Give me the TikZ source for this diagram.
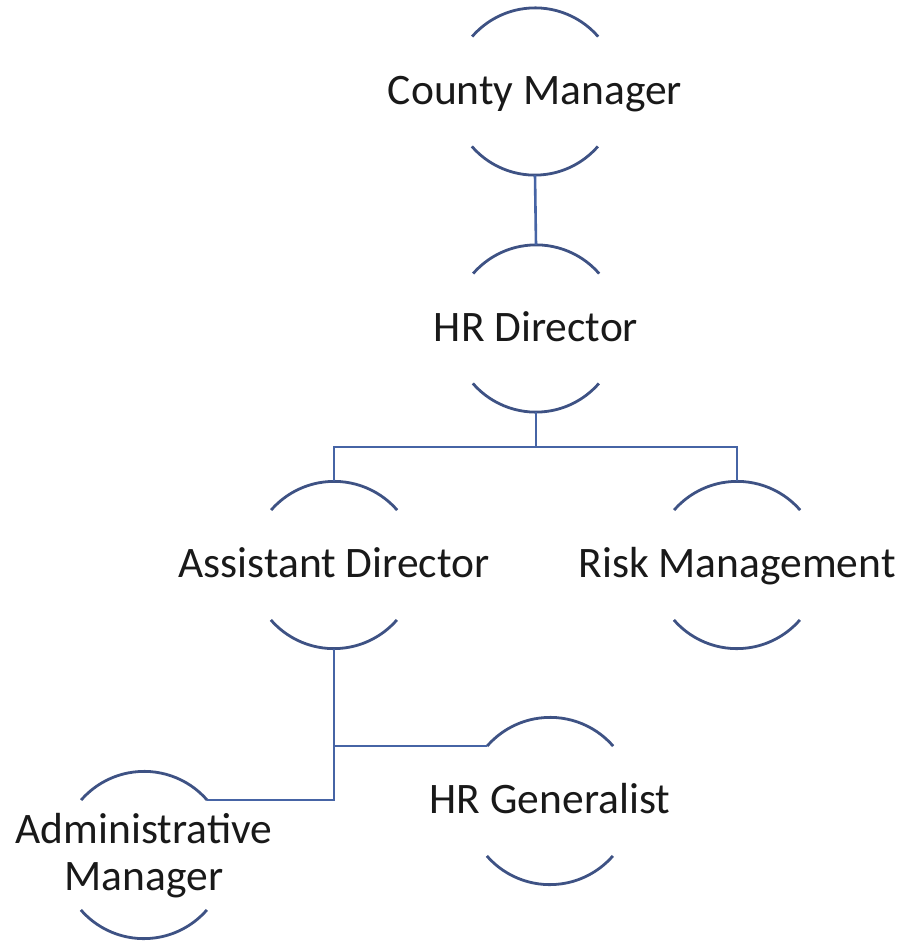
\documentclass[tikz,border=0pt]{standalone}
\usepackage{fontspec}
\setmainfont{Carlito}
\definecolor{arcblue}{RGB}{62,82,132}
\definecolor{lineblue}{RGB}{70,100,165}
\begin{document}
\begin{tikzpicture}[x=1pt,y=-1pt,
  ring/.style={circle,minimum size=167pt,inner sep=0pt,draw=none},
  lbl/.style={font=\fontsize{43.5}{47}\selectfont,inner sep=0pt,anchor=base,text=black!90},
  arcline/.style={draw=arcblue,line width=2.8pt},
  conn/.style={draw=lineblue,line width=2.6pt}]
\useasboundingbox (0,0) rectangle (906,943);
% ring placeholders
\node[ring] (cm)  at (535,91.5) {};
\node[ring] (hrd) at (536,328.5) {};
\node[ring] (ad)  at (334,565) {};
\node[ring] (rm)  at (737,565) {};
\node[ring] (hrg) at (550,801) {};
\node[ring] (am)  at (144,855) {};
% arcs
\foreach \n in {cm,hrd,ad,rm,hrg,am}{
  \draw[arcline] (\n.41) arc[start angle=41,end angle=139,radius=83.5pt];
  \draw[arcline] (\n.221) arc[start angle=221,end angle=319,radius=83.5pt];
}
% labels
\node[lbl] (cmt)  at ([yshift=-12.5pt]cm.center)  {County Manager};
\node[lbl] (hrdt) at ([yshift=-12.5pt]hrd.center) {HR Director};
\node[lbl] (adt)  at ([yshift=-12.5pt]ad.center)  {Assistant Director};
\node[lbl] (rmt)  at ([yshift=-12.5pt]rm.center)  {Risk Management};
\node[lbl] (hrgt) at ([yshift=-12pt]hrg.center) {HR Generalist};
\node[lbl,anchor=center,align=center] (amt) at ([yshift=-1pt]am.center) {Administrative\\Manager};
% connectors
\coordinate (bar) at (536,447);
\draw[conn] (cm.south) -- (hrd.north);
\draw[conn] (hrd.south) -- (bar);
\draw[conn] (ad.north) -- (ad.north |- bar) -- (rm.north |- bar) -- (rm.north);
\draw[conn] (ad.south) -- (ad.south |- am.41) -- (am.41);
\draw[conn] (ad.south |- hrg.139) -- (hrg.139);
\end{tikzpicture}
\end{document}
